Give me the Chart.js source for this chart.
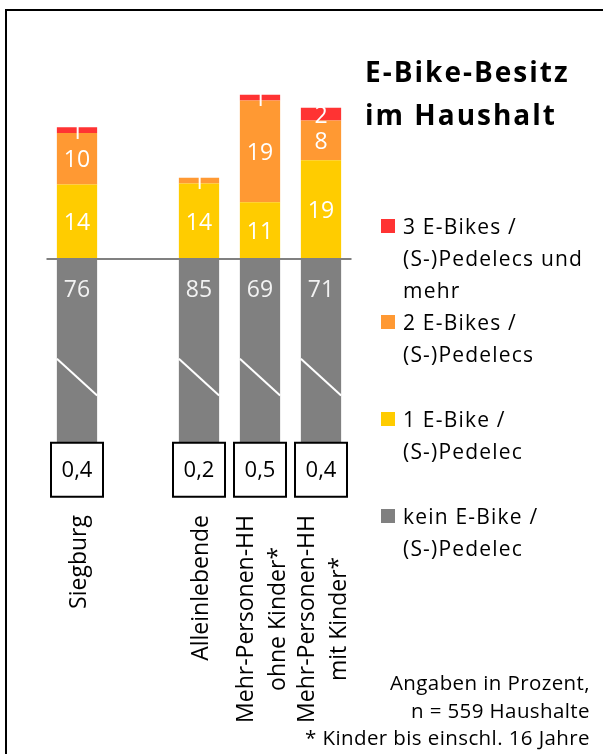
<!DOCTYPE html>
<html>
<head>
<meta charset="utf-8">
<script src="https://cdn.jsdelivr.net/npm/chart.js@4.4.1/dist/chart.umd.min.js"></script>
<style>
  html, body { margin: 0; padding: 0; background: #fff; }
  #wrap { position: relative; width: 603px; height: 754px; overflow: hidden; font-family: 'Open Sans', sans-serif; color: #000; }
  #frame { position: absolute; left: 5px; top: 9px; width: 700px; height: 800px; border-left: 2px solid #000; border-top: 2px solid #000; }
  #chart { position: absolute; left: 0; top: 0; }
  #title { position: absolute; left: 365px; top: 50px; font-size: 28px; font-weight: bold; line-height: 43px; letter-spacing: 2px; }
  .leg { position: absolute; left: 403px; font-size: 21px; line-height: 32px; letter-spacing: 1.2px; white-space: nowrap; }
  .leg i { position: absolute; left: -22px; top: 9px; width: 14px; height: 14px; }
  #notes { position: absolute; right: 13px; top: 669px; font-size: 20.5px; line-height: 27.5px; text-align: right; letter-spacing: 0.4px; white-space: nowrap; }
</style>
</head>
<body>
<div id="wrap">
  <div id="frame"></div>
  <canvas id="chart" width="603" height="754"></canvas>
  <div id="title">E-Bike-Besitz<br>im Haushalt</div>
  <div id="legend"></div>
  <div id="notes">Angaben in Prozent,<br>n = 559 Haushalte<br>* Kinder bis einschl. 16 Jahre</div>
</div>
<script>
// Kategorien (leere Lücke nach Siegburg)
const categories = [['Siegburg'], [], ['Alleinlebende'], ['Mehr-Personen-HH', 'ohne Kinder*'], ['Mehr-Personen-HH', 'mit Kinder*']];
const keinEBike = [76, null, 85, 69, 71];
const einEBike = [14.2, null, 14.4, 10.8, 18.8];
const zweiEBikes = [9.8, null, 1.1, 19.4, 7.6];
const dreiEBikes = [1.1, null, 0, 1.1, 2.4];
const durchschnitt = [0.4, null, 0.2, 0.5, 0.4];

const legendTexts = [
  ['3 E-Bikes /', '(S-)Pedelecs und', 'mehr'],
  ['2 E-Bikes /', '(S-)Pedelecs'],
  ['1 E-Bike /', '(S-)Pedelec'],
  ['kein E-Bike /', '(S-)Pedelec']
];
const colors = { drei: '#ff3333', zwei: '#ff9933', eins: '#ffcc00', kein: '#808080' };

// Graue Balken sind gekürzt dargestellt (Achsenbruch)
const GRAU_SICHTBAR = 35;

const legendTops = [210, 306, 403, 500];
const legendColors = [colors.drei, colors.zwei, colors.eins, colors.kein];
const legEl = document.getElementById('legend');
legendTexts.forEach((lines, i) => {
  const d = document.createElement('div');
  d.className = 'leg';
  d.style.top = legendTops[i] + 'px';
  d.innerHTML = '<i style="background:' + legendColors[i] + '"></i>' + lines.join('<br>');
  legEl.appendChild(d);
});

const fmtKomma = v => v.toFixed(1).replace('.', ',');

const ebikePlugin = {
  id: 'ebikePlugin',
  afterDatasetsDraw(chart) {
    const ctx = chart.ctx;
    const y = chart.scales.y, area = chart.chartArea;
    const zero = y.getPixelForValue(0);
    ctx.save();
    // Nulllinie
    ctx.strokeStyle = '#808080';
    ctx.lineWidth = 2;
    ctx.beginPath(); ctx.moveTo(area.left, zero); ctx.lineTo(area.right, zero); ctx.stroke();

    const grayMeta = chart.getDatasetMeta(3);
    ctx.font = '23px "Open Sans"';
    ctx.textAlign = 'center';
    ctx.textBaseline = 'middle';
    // Werte in den Segmenten
    [0, 1, 2].forEach(di => {
      const meta = chart.getDatasetMeta(di);
      chart.data.datasets[di].data.forEach((v, i) => {
        if (!v) return;
        const el = meta.data[i];
        ctx.fillStyle = '#ffffff';
        ctx.fillText(String(Math.round(v)), el.x, (el.y + el.base) / 2 + 2);
      });
    });
    keinEBike.forEach((v, i) => {
      if (v == null) return;
      const el = grayMeta.data[i];
      const l = el.x - el.width / 2, r = el.x + el.width / 2;
      // Bruchzeichen
      ctx.strokeStyle = '#ffffff';
      ctx.lineWidth = 2;
      ctx.beginPath();
      ctx.moveTo(l, y.getPixelForValue(-19));
      ctx.lineTo(r, y.getPixelForValue(-26));
      ctx.stroke();
      ctx.font = '23px "Open Sans"';
      ctx.fillStyle = '#f2f2f2';
      ctx.fillText(String(v), el.x, zero + 31);
      // Kasten mit Durchschnitt
      const bw = 52, bh = 54, bt = area.bottom;
      ctx.fillStyle = '#ffffff';
      ctx.fillRect(el.x - bw / 2, bt, bw, bh);
      ctx.strokeStyle = '#000000';
      ctx.strokeRect(el.x - bw / 2, bt, bw, bh);
      ctx.font = '22px "Open Sans"';
      ctx.fillStyle = '#000000';
      ctx.fillText(fmtKomma(durchschnitt[i]), el.x, bt + bh / 2 + 1);
    });

    // Kategorienamen, gedreht
    ctx.font = '23px "Open Sans"';
    categories.forEach((lines, i) => {
      if (!lines.length) return;
      const cx = chart.scales.x.getPixelForValue(i) + 2;
      const maxW = Math.max(...lines.map(t => ctx.measureText(t).width));
      const top = 515;
      lines.forEach((t, li) => {
        ctx.save();
        ctx.translate(cx + (li - (lines.length - 1) / 2) * 32, top + maxW / 2);
        ctx.rotate(-Math.PI / 2);
        ctx.textAlign = 'center';
        ctx.textBaseline = 'middle';
        ctx.fillStyle = '#000';
        ctx.fillText(t, 0, 0);
        ctx.restore();
      });
    });
    ctx.restore();
  }
};

new Chart(document.getElementById('chart'), {
  type: 'bar',
  data: {
    labels: categories.map(c => c.join(' ')),
    datasets: [
      { label: '1 E-Bike / (S-)Pedelec', data: einEBike, backgroundColor: colors.eins },
      { label: '2 E-Bikes / (S-)Pedelecs', data: zweiEBikes, backgroundColor: colors.zwei },
      { label: '3 E-Bikes / (S-)Pedelecs und mehr', data: dreiEBikes, backgroundColor: colors.drei },
      { label: 'kein E-Bike / (S-)Pedelec', data: keinEBike.map(v => v == null ? null : -GRAU_SICHTBAR), backgroundColor: colors.kein }
    ]
  },
  options: {
    responsive: false,
    animation: false,
    layout: { padding: { left: 46.5, right: 251.5, top: 49, bottom: 311.25 } },
    datasets: { bar: { barPercentage: 0.66, categoryPercentage: 1, borderWidth: 0 } },
    plugins: { legend: { display: false }, tooltip: { enabled: false } },
    scales: {
      x: { display: false, stacked: true },
      y: { display: false, stacked: true, min: -35, max: 40 }
    }
  },
  plugins: [ebikePlugin]
});
</script>
</body>
</html>
